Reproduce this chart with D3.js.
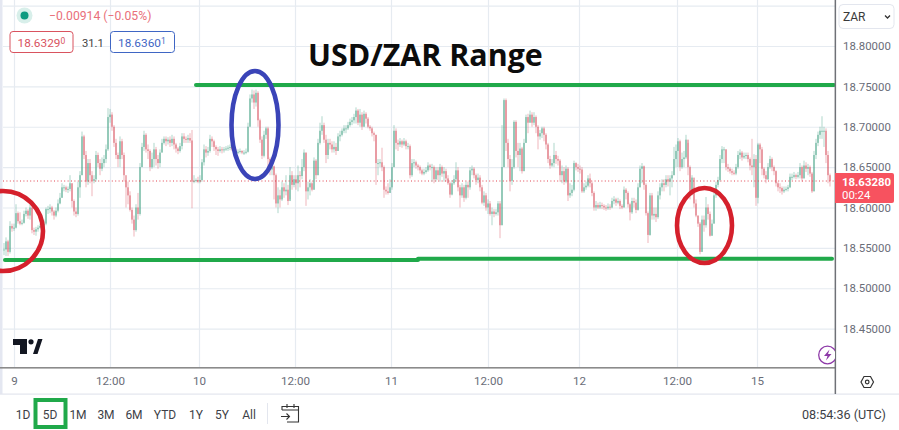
<!DOCTYPE html>
<html><head><meta charset="utf-8">
<script src="https://cdn.jsdelivr.net/npm/d3@7"></script>
<style>
html,body{margin:0;padding:0;background:#fff;overflow:hidden}
svg{display:block}
text{font-family:Roboto,"Liberation Sans",sans-serif}
</style></head><body>
<script>
const closes=[18.548,18.558,18.545,18.577,18.574,18.575,18.593,18.583,18.580,18.581,
18.592,18.596,18.590,18.600,18.572,18.570,18.573,18.575,18.577,18.575,
18.580,18.598,18.598,18.600,18.595,18.590,18.596,18.605,18.612,18.625,
18.625,18.622,18.623,18.630,18.608,18.595,18.592,18.625,18.640,18.688,
18.665,18.632,18.655,18.640,18.633,18.635,18.665,18.655,18.648,18.655,
18.660,18.672,18.712,18.715,18.700,18.680,18.665,18.660,18.682,18.665,
18.640,18.625,18.615,18.597,18.585,18.572,18.600,18.592,18.650,18.675,
18.690,18.672,18.670,18.650,18.660,18.672,18.660,18.655,18.668,18.680,
18.685,18.682,18.684,18.680,18.685,18.678,18.673,18.670,18.676,18.688,
18.685,18.684,18.686,18.683,18.632,18.633,18.634,18.632,18.634,18.656,
18.672,18.668,18.670,18.685,18.682,18.675,18.672,18.670,18.672,18.671,
18.672,18.673,18.674,18.675,18.672,18.670,18.669,18.669,18.670,18.668,
18.668,18.669,18.700,18.735,18.740,18.730,18.742,18.708,18.684,18.664,
18.690,18.698,18.660,18.647,18.651,18.640,18.605,18.615,18.610,18.625,
18.620,18.622,18.608,18.640,18.628,18.635,18.630,18.640,18.639,18.650,
18.668,18.620,18.625,18.630,18.622,18.658,18.640,18.680,18.695,18.702,
18.684,18.665,18.680,18.678,18.672,18.675,18.670,18.688,18.690,18.695,
18.698,18.698,18.702,18.706,18.708,18.712,18.720,18.705,18.715,18.700,
18.716,18.710,18.700,18.698,18.692,18.690,18.655,18.655,18.656,18.650,
18.622,18.620,18.618,18.625,18.650,18.695,18.680,18.678,18.682,18.678,
18.682,18.676,18.676,18.640,18.655,18.656,18.652,18.650,18.646,18.642,
18.644,18.646,18.652,18.650,18.650,18.635,18.646,18.640,18.650,18.642,
18.645,18.636,18.630,18.616,18.630,18.635,18.646,18.625,18.615,18.625,
18.612,18.628,18.625,18.646,18.648,18.640,18.634,18.637,18.625,18.606,
18.615,18.600,18.605,18.592,18.595,18.592,18.594,18.605,18.578,18.650,
18.733,18.680,18.660,18.633,18.650,18.706,18.670,18.665,18.673,18.645,
18.680,18.712,18.705,18.715,18.705,18.712,18.700,18.688,18.692,18.698,
18.690,18.678,18.660,18.652,18.655,18.665,18.660,18.658,18.640,18.645,
18.632,18.648,18.615,18.618,18.622,18.655,18.650,18.648,18.647,18.620,
18.625,18.627,18.636,18.630,18.618,18.600,18.603,18.600,18.603,18.602,
18.600,18.599,18.601,18.600,18.608,18.610,18.606,18.608,18.602,18.600,
18.622,18.618,18.604,18.594,18.608,18.606,18.597,18.625,18.648,18.651,
18.628,18.593,18.566,18.615,18.590,18.592,18.588,18.615,18.625,18.630,
18.628,18.635,18.632,18.636,18.640,18.660,18.670,18.682,18.650,18.660,
18.662,18.684,18.650,18.620,18.637,18.605,18.590,18.580,18.545,18.585,
18.578,18.600,18.592,18.565,18.580,18.615,18.628,18.634,18.660,18.672,
18.672,18.650,18.648,18.645,18.643,18.642,18.650,18.665,18.668,18.662,
18.664,18.665,18.660,18.652,18.650,18.660,18.612,18.678,18.672,18.648,
18.640,18.635,18.650,18.660,18.650,18.645,18.630,18.625,18.624,18.620,
18.622,18.623,18.625,18.638,18.638,18.640,18.638,18.640,18.650,18.636,
18.652,18.648,18.650,18.642,18.620,18.665,18.680,18.690,18.695,18.695,
18.695,18.665,18.640,18.633];
const highs=[18.556,18.563,18.560,18.583,18.580,18.580,18.604,18.595,18.594,18.585,
18.596,18.600,18.598,18.604,18.600,18.575,18.576,18.578,18.580,18.579,
18.585,18.600,18.602,18.604,18.602,18.597,18.600,18.610,18.618,18.630,
18.628,18.627,18.626,18.640,18.630,18.610,18.600,18.632,18.645,18.694,
18.690,18.670,18.660,18.660,18.645,18.640,18.670,18.668,18.660,18.662,
18.665,18.678,18.723,18.722,18.718,18.702,18.685,18.668,18.688,18.685,
18.668,18.632,18.632,18.620,18.600,18.590,18.604,18.618,18.655,18.680,
18.695,18.692,18.678,18.672,18.668,18.680,18.675,18.665,18.672,18.685,
18.688,18.688,18.687,18.688,18.690,18.688,18.680,18.675,18.680,18.692,
18.692,18.688,18.690,18.692,18.696,18.640,18.636,18.638,18.640,18.660,
18.678,18.676,18.675,18.690,18.688,18.684,18.677,18.675,18.676,18.675,
18.675,18.676,18.677,18.678,18.676,18.673,18.672,18.672,18.673,18.671,
18.671,18.673,18.705,18.740,18.746,18.745,18.746,18.744,18.710,18.688,
18.695,18.700,18.700,18.662,18.655,18.652,18.642,18.625,18.622,18.632,
18.630,18.640,18.628,18.650,18.645,18.640,18.640,18.652,18.645,18.660,
18.672,18.668,18.632,18.635,18.632,18.662,18.660,18.685,18.705,18.713,
18.705,18.690,18.685,18.685,18.682,18.682,18.680,18.692,18.695,18.698,
18.702,18.702,18.706,18.710,18.712,18.716,18.724,18.722,18.722,18.718,
18.720,18.718,18.712,18.702,18.700,18.694,18.690,18.660,18.660,18.674,
18.652,18.626,18.630,18.635,18.655,18.702,18.698,18.684,18.686,18.684,
18.686,18.684,18.680,18.678,18.660,18.660,18.658,18.654,18.652,18.648,
18.648,18.650,18.656,18.654,18.654,18.652,18.650,18.650,18.654,18.652,
18.650,18.648,18.640,18.632,18.634,18.640,18.656,18.650,18.628,18.630,
18.628,18.632,18.632,18.650,18.652,18.650,18.642,18.642,18.640,18.628,
18.620,18.618,18.610,18.608,18.600,18.598,18.598,18.608,18.608,18.702,
18.735,18.735,18.685,18.665,18.660,18.708,18.708,18.680,18.680,18.675,
18.685,18.715,18.716,18.720,18.718,18.718,18.714,18.702,18.696,18.700,
18.700,18.692,18.680,18.664,18.660,18.680,18.670,18.664,18.660,18.652,
18.650,18.652,18.650,18.630,18.628,18.658,18.656,18.654,18.652,18.650,
18.630,18.632,18.640,18.642,18.632,18.620,18.608,18.606,18.607,18.606,
18.604,18.603,18.605,18.604,18.612,18.614,18.612,18.612,18.610,18.604,
18.626,18.624,18.620,18.606,18.612,18.612,18.610,18.630,18.652,18.655,
18.652,18.630,18.595,18.618,18.618,18.600,18.600,18.620,18.630,18.635,
18.635,18.640,18.640,18.640,18.645,18.675,18.678,18.686,18.684,18.668,
18.670,18.690,18.680,18.652,18.640,18.625,18.610,18.590,18.582,18.590,
18.590,18.613,18.604,18.595,18.585,18.620,18.632,18.638,18.665,18.676,
18.675,18.672,18.654,18.650,18.648,18.646,18.654,18.670,18.672,18.670,
18.668,18.668,18.668,18.662,18.685,18.666,18.665,18.680,18.680,18.675,
18.650,18.645,18.655,18.664,18.662,18.652,18.646,18.632,18.630,18.626,
18.626,18.626,18.628,18.642,18.642,18.644,18.642,18.644,18.655,18.652,
18.658,18.656,18.654,18.652,18.644,18.670,18.685,18.694,18.700,18.713,
18.700,18.698,18.670,18.642];
const lows=[18.541,18.540,18.540,18.543,18.570,18.571,18.574,18.580,18.578,18.578,
18.580,18.589,18.586,18.585,18.568,18.566,18.565,18.570,18.574,18.572,
18.573,18.578,18.592,18.593,18.590,18.585,18.588,18.594,18.604,18.612,
18.620,18.619,18.618,18.620,18.600,18.590,18.588,18.590,18.612,18.640,
18.660,18.625,18.628,18.630,18.614,18.630,18.632,18.650,18.640,18.645,
18.650,18.655,18.670,18.705,18.695,18.675,18.660,18.650,18.650,18.660,
18.632,18.600,18.604,18.595,18.580,18.564,18.570,18.585,18.590,18.650,
18.670,18.668,18.660,18.645,18.648,18.650,18.652,18.648,18.650,18.668,
18.678,18.676,18.678,18.675,18.676,18.672,18.668,18.666,18.668,18.672,
18.680,18.680,18.680,18.680,18.599,18.630,18.631,18.630,18.630,18.632,
18.652,18.662,18.664,18.668,18.675,18.670,18.665,18.664,18.668,18.667,
18.668,18.670,18.670,18.671,18.670,18.667,18.666,18.666,18.667,18.666,
18.665,18.666,18.668,18.700,18.730,18.722,18.725,18.700,18.680,18.660,
18.662,18.685,18.650,18.640,18.640,18.610,18.600,18.593,18.600,18.608,
18.612,18.615,18.603,18.610,18.622,18.625,18.622,18.620,18.625,18.635,
18.645,18.602,18.610,18.615,18.620,18.622,18.635,18.640,18.678,18.690,
18.680,18.655,18.660,18.672,18.668,18.668,18.665,18.670,18.682,18.688,
18.692,18.692,18.696,18.700,18.702,18.704,18.704,18.702,18.700,18.696,
18.700,18.704,18.698,18.695,18.688,18.682,18.628,18.640,18.650,18.645,
18.612,18.616,18.616,18.618,18.622,18.650,18.672,18.670,18.675,18.674,
18.676,18.672,18.672,18.636,18.638,18.650,18.648,18.646,18.642,18.640,
18.640,18.642,18.644,18.646,18.632,18.630,18.632,18.634,18.632,18.638,
18.632,18.632,18.628,18.612,18.615,18.628,18.632,18.620,18.600,18.612,
18.607,18.610,18.612,18.622,18.640,18.636,18.628,18.630,18.620,18.604,
18.602,18.596,18.592,18.590,18.578,18.588,18.590,18.590,18.562,18.578,
18.650,18.670,18.650,18.620,18.628,18.648,18.662,18.650,18.645,18.642,
18.645,18.680,18.692,18.705,18.700,18.702,18.692,18.672,18.684,18.686,
18.682,18.672,18.655,18.648,18.650,18.650,18.654,18.652,18.632,18.630,
18.628,18.630,18.608,18.612,18.614,18.620,18.646,18.644,18.642,18.618,
18.618,18.622,18.625,18.625,18.614,18.596,18.596,18.598,18.598,18.598,
18.597,18.596,18.597,18.597,18.599,18.604,18.602,18.604,18.598,18.598,
18.600,18.610,18.600,18.584,18.592,18.600,18.593,18.596,18.625,18.630,
18.622,18.590,18.556,18.565,18.585,18.585,18.582,18.586,18.610,18.620,
18.620,18.625,18.626,18.615,18.625,18.640,18.650,18.650,18.645,18.648,
18.650,18.660,18.640,18.610,18.615,18.600,18.588,18.576,18.542,18.545,
18.570,18.575,18.585,18.564,18.565,18.580,18.612,18.625,18.632,18.655,
18.655,18.646,18.644,18.642,18.640,18.640,18.640,18.648,18.660,18.658,
18.660,18.660,18.656,18.646,18.640,18.625,18.602,18.605,18.655,18.640,
18.636,18.630,18.634,18.648,18.645,18.640,18.626,18.620,18.618,18.616,
18.618,18.620,18.620,18.624,18.634,18.636,18.635,18.636,18.636,18.632,
18.636,18.644,18.640,18.638,18.618,18.620,18.660,18.676,18.685,18.685,
18.675,18.655,18.630,18.626];

const priceTicks=[18.45,18.50,18.55,18.60,18.65,18.70,18.75,18.80];
const gridOnlyPrices=[18.85];
const timeTicks=[6,54,98.5,146.5,194.5,243,288.5,337.5,377.5];
const timeLabels=["9","12:00","10","12:00","11","12:00","12","12:00","15"];
const lastPrice=18.6328;
const rangeTop=18.7517, rangeLowA=18.5351, rangeLowB=18.5364;
const ranges=["1D","5D","1M","3M","6M","YTD","1Y","5Y","All"];
const rangeX=[23,50,78,106,134,165,196,222,249];

const W=899,H=430;
const x=d3.scaleLinear().domain([0,414]).range([2,830]);
const y=d3.scaleLinear().domain([18.8,18.45]).range([46,328.6]);
const svg=d3.select("body").append("svg").attr("width",W).attr("height",H);
const GRID="#e6ebf1",TXT="#6a6d78",GREEN="#20a94a",RED="#d5202c";

svg.append("rect").attr("width",2.5).attr("height",394).attr("fill","#e4e7f1");
const defs=svg.append("defs");
defs.append("clipPath").attr("id","plot").append("rect").attr("x",2.5).attr("y",0).attr("width",832).attr("height",367);

// grid via axes
const gridY=svg.append("g").attr("transform","translate(3,0)")
 .call(d3.axisRight(y).tickValues(priceTicks.concat(gridOnlyPrices)).tickSize(832).tickFormat(""));
const gridX=svg.append("g").attr("transform","translate(0,367)")
 .call(d3.axisTop(x).tickValues(timeTicks).tickSize(367).tickFormat(""));
[gridY,gridX].forEach(g=>{g.select(".domain").remove();g.selectAll("line").attr("stroke",GRID).attr("stroke-width",1.2);});

// candles
const plot=svg.append("g").attr("clip-path","url(#plot)");
const opens=closes.map((c,i)=>i?closes[i-1]:c);
const col=i=>closes[i]>=opens[i]?"#3c9e80":"#d94a58";
plot.selectAll("line.w").data(closes).join("line").attr("class","w")
 .attr("x1",(d,i)=>x(i+1)).attr("x2",(d,i)=>x(i+1))
 .attr("y1",(d,i)=>y(highs[i])).attr("y2",(d,i)=>y(lows[i]))
 .attr("stroke",(d,i)=>col(i)).attr("stroke-width",1).attr("opacity",.4);
plot.selectAll("rect.b").data(closes).join("rect").attr("class","b")
 .attr("x",(d,i)=>x(i+1)-.55).attr("width",1.1)
 .attr("y",(d,i)=>Math.min(y(opens[i]),y(closes[i])))
 .attr("height",(d,i)=>Math.max(1,Math.abs(y(opens[i])-y(closes[i]))))
 .attr("fill",(d,i)=>col(i)).attr("opacity",.78);

// last price line
svg.append("line").attr("x1",3).attr("x2",835).attr("y1",y(lastPrice)).attr("y2",y(lastPrice))
 .attr("stroke","#e0434f").attr("stroke-width",1).attr("stroke-dasharray","1 2.4");

// annotations
const seg=(a,b,p,w)=>svg.append("line").attr("x1",a).attr("x2",b).attr("y1",y(p)).attr("y2",y(p))
 .attr("stroke",GREEN).attr("stroke-width",w).attr("stroke-linecap","round");
seg(196,834,rangeTop,4);seg(5,418,rangeLowA,4);seg(418,832,rangeLowB,4);
const ell=(cx,cy,rx,ry,c)=>svg.append("ellipse").attr("cx",cx).attr("cy",cy).attr("rx",rx).attr("ry",ry)
 .attr("fill","none").attr("stroke",c).attr("stroke-width",4.6);
ell(3,231,40,40,RED);ell(255,125,23.5,54,"#3a44b8");ell(704.5,225.5,27.5,37.5,RED);

svg.append("text").text("USD/ZAR Range").attr("x",308).attr("y",66).attr("font-size",30.4)
 .attr("font-weight",700).style("font-family","'Open Sans',sans-serif").attr("fill","#0c0c0c");

// axis frame
svg.append("rect").attr("x",0).attr("y",367).attr("width",836).attr("height",1.6).attr("fill","#8b8b8b");
svg.append("rect").attr("x",0).attr("y",393.5).attr("width",899).attr("height",1.2).attr("fill","#e3e6ee");
svg.append("rect").attr("x",834.6).attr("y",0).attr("width",1.5).attr("height",394).attr("fill","#6f7177");

// price axis
const ay=svg.append("g").attr("transform","translate(843,0)")
 .call(d3.axisRight(y).tickValues(priceTicks).tickSize(0).tickPadding(0).tickFormat(d3.format(".5f")));
ay.select(".domain").remove();
ay.selectAll("text").attr("font-size",11.4).attr("fill",TXT).style("font-family","Roboto,sans-serif");

// time axis
const ax=svg.append("g").attr("transform","translate(0,374)")
 .call(d3.axisBottom(x).tickValues(timeTicks).tickSize(0).tickPadding(3).tickFormat((d,i)=>timeLabels[i]));
ax.select(".domain").remove();
ax.selectAll("text").attr("font-size",11.6).attr("fill",TXT).style("font-family","Roboto,sans-serif");

// last price tag
svg.append("path").attr("d","M835 173H892a2 2 0 0 1 2 2V201a2 2 0 0 1-2 2H835Z").attr("fill","#f7525f");
svg.append("text").text("18.63280").attr("x",842).attr("y",186).attr("font-size",11.4).attr("font-weight",700).attr("fill","#fff");
svg.append("text").text("00:24").attr("x",842).attr("y",199).attr("font-size",11.4).attr("fill","#fff");

// ZAR button
svg.append("rect").attr("x",839).attr("y",4.5).attr("width",55).attr("height",24).attr("rx",4).attr("fill","#fff").attr("stroke","#e3e6ee");
svg.append("text").text("ZAR").attr("x",843).attr("y",20.5).attr("font-size",12).attr("fill","#3a3a3a");
svg.append("path").attr("d","M885 15.5l2.5 2.5l2.5-2.5").attr("fill","none").attr("stroke","#333").attr("stroke-width",1.3);

// header
svg.append("circle").attr("cx",24.5).attr("cy",15.5).attr("r",8).attr("fill","#d8efea");
svg.append("circle").attr("cx",24.5).attr("cy",15.5).attr("r",4).attr("fill","#0f9a80");
svg.append("text").text("\u22120.00914 (\u22120.05%)").attr("x",49).attr("y",20).attr("font-size",12.2).attr("fill","#e9707a");
const pill=(bx,w,c,t,sup)=>{
 svg.append("rect").attr("x",bx).attr("y",31.5).attr("width",w).attr("height",21).attr("rx",3).attr("fill","#fff").attr("stroke",c);
 const tx=svg.append("text").attr("x",bx+7.5).attr("y",47).attr("font-size",11.8).attr("fill",c).text(t);
 tx.append("tspan").text(sup).attr("font-size",8.5).attr("dy",-3);
};
pill(10,63,"#d9535f","18.6329","0");
pill(110.5,64,"#3f66c4","18.6360","1");
svg.append("text").text("31.1").attr("x",82).attr("y",47).attr("font-size",11.2).attr("fill","#444");

// TV logo
svg.append("path").attr("fill","#131722")
 .attr("d","M13 339H27V354H20V345H13Z M33 354L38 339H42.5L37.5 354Z");
svg.append("circle").attr("cx",31).attr("cy",341.8).attr("r",2.6).attr("fill","#131722");

// bolt badge (clipped by axis)
defs.append("clipPath").attr("id","bolt").append("rect").attr("x",810).attr("y",340).attr("width",25).attr("height",26);
const bolt=svg.append("g").attr("clip-path","url(#bolt)");
bolt.append("circle").attr("cx",827.5).attr("cy",355).attr("r",8.8).attr("fill","#fff").attr("stroke","#8e3aa8").attr("stroke-width",1.3);
bolt.append("path").attr("d","M829.5 349.5L824 356H827.5L826 360.5L831.5 354H828Z").attr("fill","#8e3aa8");

// settings hexagon
svg.append("path").attr("d","M861 382L864 376.5H870.5L873.5 382L870.5 387.5H864Z").attr("fill","none").attr("stroke","#333").attr("stroke-width",1.2);
svg.append("circle").attr("cx",867.2).attr("cy",382).attr("r",1.8).attr("fill","none").attr("stroke","#333").attr("stroke-width",1.2);

// bottom bar
svg.selectAll("text.rng").data(ranges).join("text").attr("class","rng")
 .text(d=>d).attr("x",(d,i)=>rangeX[i]).attr("y",418.5).attr("text-anchor","middle").attr("font-size",12)
 .attr("fill","#3d3f47");
svg.append("rect").attr("x",35.5).attr("y",400).attr("width",30).attr("height",27).attr("fill","none").attr("stroke",GREEN).attr("stroke-width",4);
svg.append("line").attr("x1",267.5).attr("x2",267.5).attr("y1",403).attr("y2",424).attr("stroke","#e3e6ee");
svg.append("path").attr("d","M282 410V406.5H298.5V422H287M282 410H298.5M287 404V408M294 404V408M281 416.5H289M286.5 413.5L289.5 416.5L286.5 419.5")
 .attr("fill","none").attr("stroke","#333").attr("stroke-width",1.1);
svg.append("text").text("08:54:36 (UTC)").attr("x",802).attr("y",418.5).attr("font-size",12.6).attr("fill","#3d3f47");
</script>
</body></html>
